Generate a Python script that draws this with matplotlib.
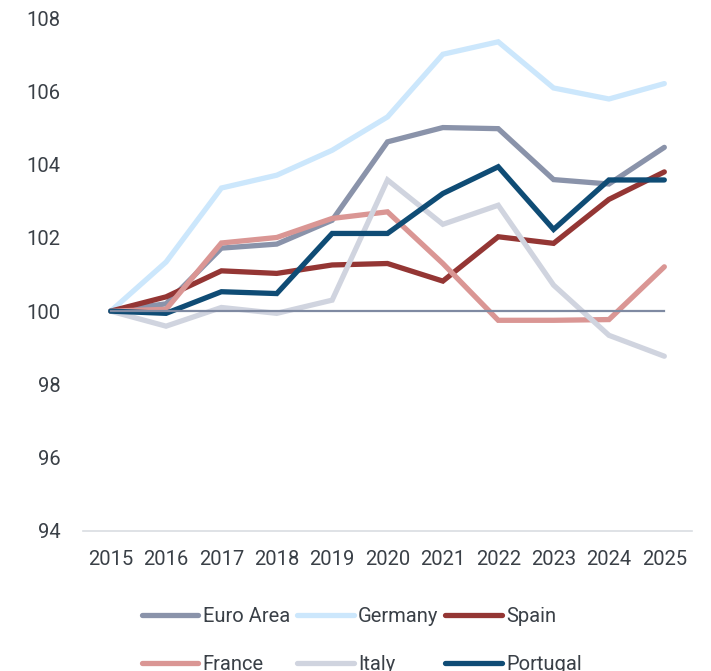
import matplotlib
matplotlib.use("Agg")
import matplotlib.pyplot as plt

years = ["2015", "2016", "2017", "2018", "2019", "2020", "2021", "2022", "2023", "2024", "2025"]
euro_area = [100, 100.2, 101.72, 101.83, 102.48, 104.62, 105.01, 104.98, 103.59, 103.47, 104.47]
germany = [100, 101.34, 103.36, 103.71, 104.39, 105.3, 107.01, 107.35, 106.09, 105.79, 106.21]
spain = [100, 100.39, 101.1, 101.03, 101.26, 101.3, 100.82, 102.03, 101.85, 103.05, 103.8]
france = [100, 100.05, 101.86, 102.01, 102.53, 102.71, 101.3, 99.75, 99.75, 99.77, 101.21]
italy = [100, 99.59, 100.1, 99.94, 100.3, 103.58, 102.37, 102.89, 100.71, 99.34, 98.77]
portugal = [100, 99.94, 100.53, 100.48, 102.12, 102.12, 103.21, 103.94, 102.23, 103.58, 103.58]
baseline = [100] * len(years)

series = [
    ("Euro Area", euro_area, "#8A93AA"),
    ("Germany", germany, "#CCE7FC"),
    ("Spain", spain, "#943634"),
    ("France", france, "#DA9694"),
    ("Italy", italy, "#D0D4DF"),
    ("Portugal", portugal, "#0F4C75"),
]

plt.rcParams['font.family'] = ['Roboto', 'DejaVu Sans']
text_color = "#3A4047"

fig = plt.figure(figsize=(7.11, 6.71), dpi=100)
ax = fig.add_axes([83 / 711, 1 - 531 / 671, (692 - 83) / 711, (531 - 18) / 671])

x = list(range(len(years)))
lines = {}
for name, vals, color in series:
    ln, = ax.plot(x, vals, color=color, lw=3.8, solid_capstyle="round",
                  solid_joinstyle="miter", label=name)
    lines[name] = ln
ax.plot(x, baseline, color="#7F8AA2", lw=1.6, zorder=5)

ax.set_xlim(-0.5, len(years) - 0.5)
ax.set_ylim(94, 108)
ax.set_yticks([94, 96, 98, 100, 102, 104, 106, 108])
ax.set_xticks(x)
ax.set_xticklabels(years)

for s in ["top", "right", "left"]:
    ax.spines[s].set_visible(False)
ax.spines["bottom"].set_color("#D9DDE2")
ax.spines["bottom"].set_linewidth(1.2)
ax.tick_params(axis="both", length=0, labelsize=14.5, colors=text_color)
ax.tick_params(axis="y", pad=16)
ax.tick_params(axis="x", pad=14)

# matplotlib fills legend columns first; order so rows read EA/Germany/Spain, France/Italy/Portugal
order = ["Euro Area", "France", "Germany", "Italy", "Spain", "Portugal"]
fig.legend(handles=[lines[n] for n in order], loc="upper center",
           bbox_to_anchor=(362 / 711, 1 - 589 / 671),
           ncol=3, frameon=False, fontsize=14.5, handlelength=2.8, handletextpad=0.22,
           columnspacing=0.35, labelspacing=1.45, labelcolor=text_color)

fig.savefig("out.png", dpi=100)
